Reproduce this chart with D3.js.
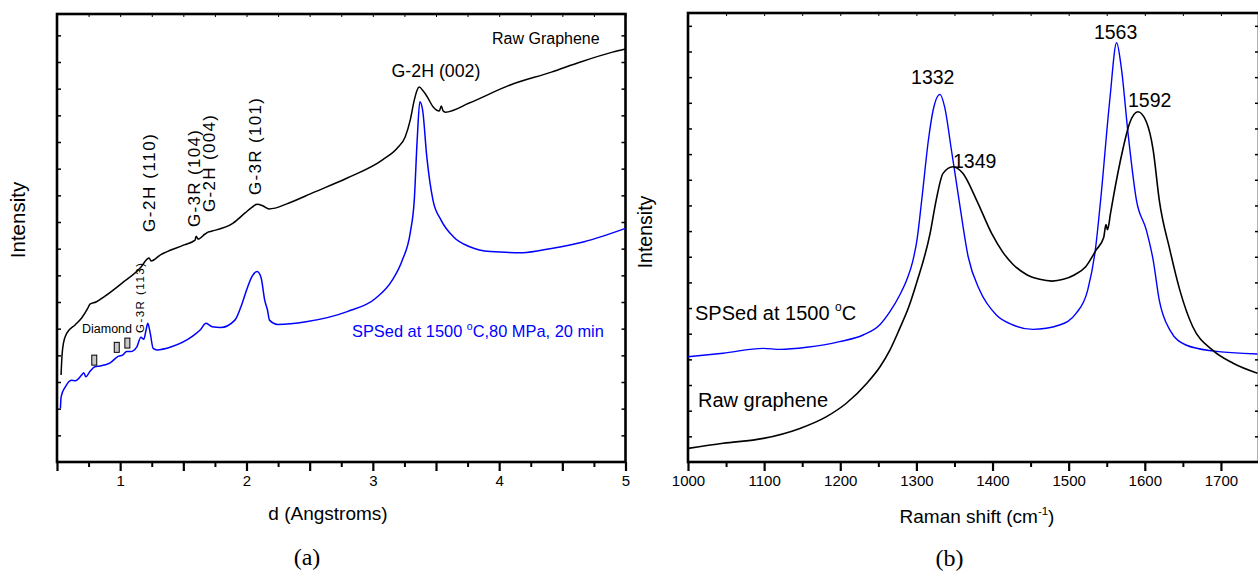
<!DOCTYPE html>
<html>
<head>
<meta charset="utf-8">
<script src="https://cdn.jsdelivr.net/npm/d3@7"></script>
<style>
    body { margin: 0; background: #fff; }
    svg { display: block; font-family: Arial, "Liberation Sans", sans-serif; }
    .tick text { font-size: 15px; font-family: Arial, "Liberation Sans", sans-serif; }
</style>
</head>
<body>
<svg id="chart"></svg>
<script>
// (a) XRD, d spacing in angstrom vs intensity (a.u.)
const xrdRawD = [0.532, 0.540, 0.551, 0.579, 0.643, 0.695, 0.744, 0.761, 0.809, 0.880, 1.015, 1.165, 1.213, 1.229, 1.245, 1.316, 1.506, 1.593, 1.601, 1.617, 1.672, 1.696, 1.728, 1.894, 1.989, 2.045, 2.084, 2.132, 2.179, 2.227, 2.314, 2.536, 2.797, 3.074, 3.201, 3.256, 3.296, 3.328, 3.351, 3.367, 3.399, 3.431, 3.478, 3.526, 3.542, 3.557, 3.573, 3.763, 4.088, 4.413, 4.643, 4.897, 5.0];
const xrdRawI = [3.26, 4.01, 4.46, 4.84, 5.14, 5.40, 5.77, 5.92, 6.00, 6.22, 6.71, 7.31, 7.61, 7.65, 7.54, 7.76, 8.14, 8.32, 8.47, 8.36, 8.55, 8.62, 8.66, 8.96, 9.34, 9.56, 9.67, 9.60, 9.49, 9.52, 9.67, 10.12, 10.65, 11.32, 11.81, 12.19, 12.82, 13.57, 13.95, 14.06, 13.91, 13.69, 13.31, 13.16, 13.35, 13.16, 13.12, 13.46, 14.14, 14.62, 15.0, 15.37, 15.49];

const xrdSpsD = [0.527, 0.533, 0.566, 0.614, 0.646, 0.695, 0.712, 0.728, 0.760, 0.799, 0.841, 0.921, 0.987, 1.019, 1.051, 1.083, 1.132, 1.164, 1.187, 1.205, 1.219, 1.238, 1.261, 1.292, 1.406, 1.568, 1.633, 1.680, 1.729, 1.794, 1.908, 1.956, 2.005, 2.045, 2.084, 2.116, 2.144, 2.166, 2.182, 2.247, 2.472, 2.797, 3.023, 3.154, 3.233, 3.296, 3.328, 3.351, 3.372, 3.394, 3.427, 3.476, 3.540, 3.637, 3.767, 3.930, 4.184, 4.414, 4.673, 5.0];
const xrdSpsI = [2.01, 2.45, 2.82, 3.07, 3.05, 3.26, 3.35, 3.20, 3.39, 3.57, 3.60, 3.72, 3.97, 4.01, 4.14, 4.14, 4.32, 4.68, 4.60, 4.95, 5.20, 4.83, 4.26, 4.20, 4.32, 4.70, 4.95, 5.20, 5.07, 5.04, 5.32, 5.82, 6.51, 6.97, 7.14, 6.90, 6.07, 5.70, 5.32, 5.16, 5.26, 5.64, 6.14, 6.82, 7.57, 8.59, 9.82, 12.07, 13.51, 13.20, 11.45, 9.82, 9.07, 8.45, 8.07, 7.89, 7.85, 8.01, 8.26, 8.76];

// diamond reflections marked with small boxes
const diamondD = [0.795, 0.973, 1.057];
const diamondI = [3.82, 4.30, 4.46];

// (b) Raman, shift in cm-1 vs intensity (a.u.)
const ramanSpsX = [1000, 1046, 1099, 1121, 1156, 1199, 1230, 1252, 1265, 1278, 1288, 1295, 1301, 1307, 1316, 1322, 1331, 1337, 1346, 1356, 1368, 1383, 1405, 1427, 1453, 1488, 1510, 1525, 1535, 1542, 1554, 1563, 1569, 1578, 1589, 1602, 1611, 1619, 1633, 1654, 1689, 1748];
const ramanSpsI = [4.10, 4.24, 4.43, 4.39, 4.47, 4.69, 4.95, 5.35, 5.85, 6.50, 7.15, 7.80, 8.70, 10.21, 12.6, 13.72, 14.33, 13.85, 12.16, 10.21, 8.0, 6.70, 5.73, 5.34, 5.17, 5.34, 5.80, 6.70, 8.26, 10.21, 14.11, 16.34, 15.40, 12.81, 10.21, 9.04, 7.87, 6.31, 5.14, 4.56, 4.33, 4.21];

const ramanRawX = [1000, 1046, 1099, 1147, 1182, 1208, 1235, 1252, 1265, 1278, 1290, 1300, 1318, 1326, 1335, 1348, 1361, 1379, 1399, 1413, 1427, 1445, 1462, 1478, 1493, 1508, 1522, 1536, 1546, 1549, 1551, 1555, 1558, 1571, 1580, 1591, 1602, 1611, 1619, 1633, 1646, 1663, 1689, 1716, 1748];
const ramanRawI = [0.53, 0.73, 0.92, 1.31, 1.77, 2.29, 3.07, 3.70, 4.35, 5.20, 6.05, 6.96, 8.91, 10.21, 11.25, 11.51, 11.25, 10.21, 8.90, 8.20, 7.70, 7.30, 7.12, 7.05, 7.12, 7.30, 7.60, 8.26, 8.75, 9.25, 9.05, 9.70, 10.21, 12.16, 13.20, 13.65, 13.26, 12.16, 10.21, 8.26, 6.70, 5.27, 4.36, 3.85, 3.46];

const ramanPeaks = [1332, 1349, 1563, 1592];

const xrdTicks = [1, 2, 3, 4, 5];
const ramanTicks = [1000, 1100, 1200, 1300, 1400, 1500, 1600, 1700];

function init() {
    const width = 1258;
    const height = 573;
    const blue = "#0000ff";
    const font = 'Arial, "Liberation Sans", sans-serif';

    const svg = d3.select("#chart")
        .attr("width", width)
        .attr("height", height);

    //panel boxes in pixels
    const pa = { left: 57, right: 625.5, top: 14, bottom: 462 };
    const pb = { left: 688, right: 1259, top: 13, bottom: 462 };

    const xA = d3.scaleLinear().domain([0.5, 5]).range([pa.left, pa.right]);
    const yA = d3.scaleLinear().domain([0, 16.8]).range([pa.bottom, pa.top]);
    const xB = d3.scaleLinear().domain([1000, 1750]).range([pb.left, pb.right]);
    const yB = d3.scaleLinear().domain([0, 17.5]).range([pb.bottom, pb.top]);

    function drawFrame(p, x, y, majors, minors, labels, yTicks) {
        const g = svg.append("g");
        //bottom major ticks with labels
        g.append("g")
            .attr("transform", `translate(0, ${p.bottom})`)
            .call(d3.axisBottom(x).tickValues(majors).tickSize(9).tickPadding(4)
                .tickFormat(d => labels.includes(d) ? d : ""))
            .call(a => a.select(".domain").remove())
            .call(a => a.selectAll("line").attr("stroke-width", 2.2));
        //bottom minor ticks
        g.append("g")
            .attr("transform", `translate(0, ${p.bottom})`)
            .call(d3.axisBottom(x).tickValues(minors).tickSize(5).tickFormat(""))
            .call(a => a.select(".domain").remove())
            .call(a => a.selectAll("line").attr("stroke-width", 2));
        //top inward ticks
        g.append("g")
            .attr("transform", `translate(0, ${p.top})`)
            .call(d3.axisTop(x).tickValues(majors.concat(minors)).tickSize(-3).tickFormat(""))
            .call(a => a.select(".domain").remove());
        //left and right inward ticks
        g.append("g")
            .attr("transform", `translate(${p.left}, 0)`)
            .call(d3.axisLeft(y).tickValues(yTicks).tickSize(-4).tickFormat(""))
            .call(a => a.select(".domain").remove())
            .call(a => a.selectAll("line").attr("stroke-width", 1.5));
        g.append("g")
            .attr("transform", `translate(${p.right}, 0)`)
            .call(d3.axisRight(y).tickValues(yTicks).tickSize(-4).tickFormat(""))
            .call(a => a.select(".domain").remove())
            .call(a => a.selectAll("line").attr("stroke-width", 1.5));
        g.append("rect")
            .attr("x", p.left)
            .attr("y", p.top)
            .attr("width", p.right - p.left)
            .attr("height", p.bottom - p.top)
            .attr("fill", "none")
            .attr("stroke", "#000")
            .attr("stroke-width", 2.6);
        g.selectAll(".tick text").attr("fill", "#000");
    }

    // ---------- panel (a) ----------
    const majA = d3.range(0.5, 5.01, 0.5);
    const minA = d3.range(0.75, 5, 0.5);
    drawFrame(pa, xA, yA, majA, minA, xrdTicks, d3.range(1, 17, 1));

    const lineA = d3.line()
        .x(d => xA(d[0]))
        .y(d => yA(d[1]))
        .curve(d3.curveMonotoneX);

    svg.append("path")
        .datum(d3.zip(xrdRawD, xrdRawI))
        .attr("d", lineA)
        .attr("fill", "none")
        .attr("stroke", "#000")
        .attr("stroke-width", 1.5);

    svg.append("path")
        .datum(d3.zip(xrdSpsD, xrdSpsI))
        .attr("d", lineA)
        .attr("fill", "none")
        .attr("stroke", blue)
        .attr("stroke-width", 1.5);

    //diamond boxes
    svg.selectAll(".dia").data(d3.zip(diamondD, diamondI)).enter()
        .append("rect")
        .attr("class", "dia")
        .attr("x", d => xA(d[0]) - 2.5)
        .attr("y", d => yA(d[1]) - 5)
        .attr("width", 5)
        .attr("height", 10)
        .attr("fill", "#c8c8c8")
        .attr("stroke", "#000")
        .attr("stroke-width", 1);

    svg.append("text")
        .attr("x", 82).attr("y", 333)
        .attr("font-size", 12.5)
        .text("Diamond");

    //vertical peak labels
    const vLabels = [
        { t: "G-2H (110)", x: 155, y: 232, len: 98, fs: 17 },
        { t: "G-3R (104)", x: 199.5, y: 227, len: 97, fs: 17 },
        { t: "G-2H (004)", x: 214.5, y: 212, len: 97, fs: 17 },
        { t: "G-3R (101)", x: 261, y: 195, len: 97, fs: 17 },
        { t: "G-3R (113)", x: 143.5, y: 333, len: 70, fs: 11.5 }
    ];
    svg.selectAll(".vlab").data(vLabels).enter()
        .append("text")
        .attr("class", "vlab")
        .attr("transform", d => `translate(${d.x}, ${d.y}) rotate(-90)`)
        .attr("font-size", d => d.fs)
        .attr("textLength", d => d.len)
        .attr("lengthAdjust", "spacing")
        .text(d => d.t);

    svg.append("text")
        .attr("x", 391.5).attr("y", 77)
        .attr("font-size", 17.8)
        .text("G-2H (002)");

    svg.append("text")
        .attr("x", 492).attr("y", 44)
        .attr("font-size", 16)
        .text("Raw Graphene");

    const spsA = svg.append("text")
        .attr("x", 352).attr("y", 337)
        .attr("font-size", 16.4)
        .attr("fill", blue);
    spsA.append("tspan").text("SPSed at 1500 ");
    spsA.append("tspan").attr("font-size", 10.5).attr("dy", -7).text("o");
    spsA.append("tspan").attr("dy", 7).text("C,80 MPa, 20 min");

    svg.append("text")
        .attr("transform", "translate(25, 220) rotate(-90)")
        .attr("text-anchor", "middle")
        .attr("font-size", 20.5)
        .text("Intensity");

    svg.append("text")
        .attr("x", 328).attr("y", 520)
        .attr("text-anchor", "middle")
        .attr("font-size", 19)
        .text("d (Angstroms)");

    svg.append("text")
        .attr("x", 307).attr("y", 565)
        .attr("text-anchor", "middle")
        .attr("font-family", '"Times New Roman", "Liberation Serif", serif')
        .attr("font-size", 24)
        .text("(a)");

    // ---------- panel (b) ----------
    const majB = d3.range(1000, 1751, 100);
    const minB = d3.range(1050, 1751, 100);
    drawFrame(pb, xB, yB, majB, minB, ramanTicks, d3.range(1, 18, 1));

    const lineB = d3.line()
        .x(d => xB(d[0]))
        .y(d => yB(d[1]))
        .curve(d3.curveMonotoneX);

    svg.append("path")
        .datum(d3.zip(ramanSpsX, ramanSpsI))
        .attr("d", lineB)
        .attr("fill", "none")
        .attr("stroke", blue)
        .attr("stroke-width", 1.4);

    svg.append("path")
        .datum(d3.zip(ramanRawX, ramanRawI))
        .attr("d", lineB)
        .attr("fill", "none")
        .attr("stroke", "#000")
        .attr("stroke-width", 1.6);

    //peak numbers: offset from the peak position
    const peakOffset = { 1332: [-8, 84], 1349: [21, 168], 1563: [-1, 39], 1592: [11, 106.7] };
    svg.selectAll(".pk").data(ramanPeaks).enter()
        .append("text")
        .attr("class", "pk")
        .attr("x", d => xB(d) + peakOffset[d][0])
        .attr("y", d => peakOffset[d][1])
        .attr("text-anchor", "middle")
        .attr("font-size", 19.5)
        .text(d => d);

    const spsB = svg.append("text")
        .attr("x", 695).attr("y", 320)
        .attr("font-size", 20);
    spsB.append("tspan").text("SPSed at 1500 ");
    spsB.append("tspan").attr("font-size", 12).attr("dy", -9).text("o");
    spsB.append("tspan").attr("dy", 9).text("C");

    svg.append("text")
        .attr("x", 698).attr("y", 407)
        .attr("font-size", 20)
        .text("Raw graphene");

    svg.append("text")
        .attr("transform", "translate(652, 232) rotate(-90)")
        .attr("text-anchor", "middle")
        .attr("font-size", 19.5)
        .text("Intensity");

    const tB = svg.append("text")
        .attr("x", 977).attr("y", 523)
        .attr("text-anchor", "middle")
        .attr("font-size", 19);
    tB.append("tspan").text("Raman shift (cm");
    tB.append("tspan").attr("font-size", 11.5).attr("dy", -8).text("-1");
    tB.append("tspan").attr("dy", 8).text(")");

    svg.append("text")
        .attr("x", 949.5).attr("y", 566)
        .attr("text-anchor", "middle")
        .attr("font-family", '"Times New Roman", "Liberation Serif", serif')
        .attr("font-size", 24)
        .text("(b)");

    svg.selectAll("text").filter(function() { return !this.getAttribute("font-family"); })
        .attr("font-family", font);
}

window.onload = init;
</script>
</body>
</html>
